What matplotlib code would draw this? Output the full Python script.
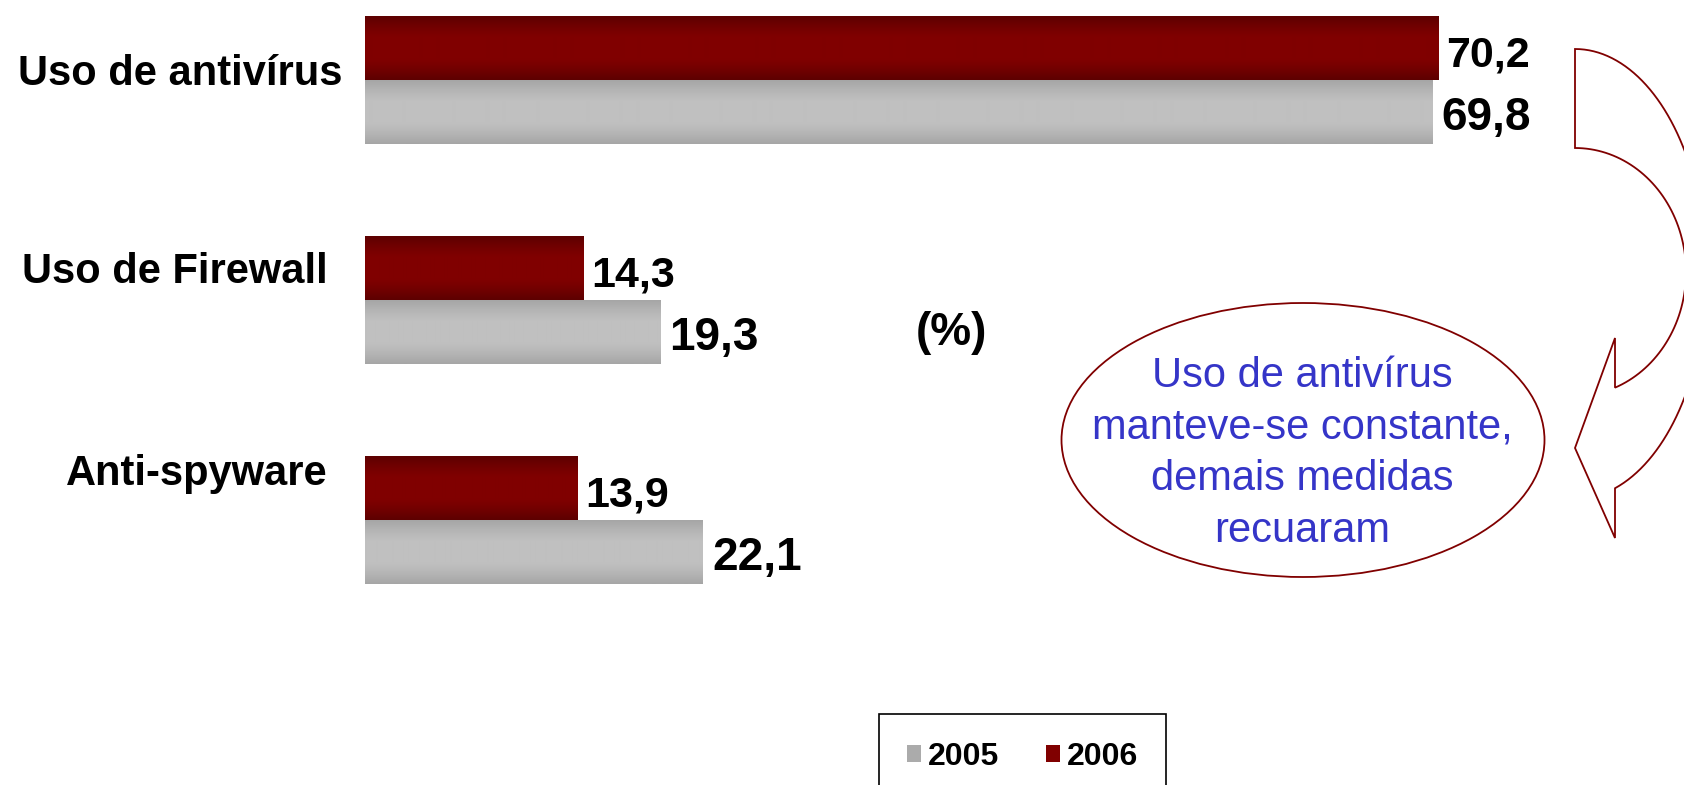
import numpy as np
import matplotlib
matplotlib.use('Agg')
import matplotlib.pyplot as plt
from matplotlib import font_manager
from matplotlib.colors import to_rgb
from matplotlib.patches import Ellipse, Patch, PathPatch
from matplotlib.path import Path

# ---- data -------------------------------------------------------------------
categories = ['Uso de antivírus', 'Uso de Firewall', 'Anti-spyware']
years = ['2005', '2006']
vals_2005 = [69.8, 19.3, 22.1]
vals_2006 = [70.2, 14.3, 13.9]
unit_label = '(%)'
note_lines = ['Uso de antivírus', 'manteve-se constante,', 'demais medidas', 'recuaram']

# ---- fonts ------------------------------------------------------------------
installed = {f.name for f in font_manager.fontManager.ttflist}
narrow = 'Liberation Sans Narrow' if 'Liberation Sans Narrow' in installed else 'Liberation Sans'
plt.rcParams['font.family'] = ['Liberation Sans', 'DejaVu Sans']
# sizes for the value labels depend on whether the narrow cut exists
size06, size05 = (35, 37) if narrow == 'Liberation Sans Narrow' else (31, 33)

RED = '#800000'
RED_EDGE = '#5e0000'
GRAY = '#c0c0c0'
GRAY_EDGE = '#a6a6a6'
BLUE = '#3535c8'

def fmt(v):
    return f'{v:.1f}'.replace('.', ',')

def shade(bars, mid, edge):
    # vertical gradient: darker at top/bottom edge of each bar
    t = np.linspace(-1, 1, 64)
    m = np.clip((np.abs(t) - 0.35) / 0.65, 0, 1) ** 1.2
    img = np.array(to_rgb(mid))[None, :] * (1 - m)[:, None] + np.array(to_rgb(edge))[None, :] * m[:, None]
    img = img[:, None, :]
    for b in bars:
        x, yb, w, hh = b.get_x(), b.get_y(), b.get_width(), b.get_height()
        ax.imshow(img, extent=(x, x + w, yb + hh, yb), aspect='auto',
                  interpolation='bilinear', zorder=2)

# ==============================================================================
# Figure
# ==============================================================================
W, H = 1684, 785
fig = plt.figure(figsize=(W / 100, H / 100), dpi=100)
fig.patch.set_facecolor('white')

x0 = 365          # pixel where the bars start
px_per = 15.29    # pixels per percent
grp = 220         # pixels between groups
top0 = 80         # pixel of the first group centre

ax = fig.add_axes([x0 / W, 0, 1 - x0 / W, 1])
y = np.arange(len(categories))
h = 64 / grp

bars06 = ax.barh(y - h / 2, vals_2006, height=h, color=RED, zorder=1)
bars05 = ax.barh(y + h / 2, vals_2005, height=h, color=GRAY, zorder=1)
shade(bars06, RED, RED_EDGE)
shade(bars05, GRAY, GRAY_EDGE)

ax.set_xlim(0, (W - x0) / px_per)
ax.set_ylim((H - top0) / grp, -top0 / grp)
ax.axis('off')

# ---- value labels ------------------------------------------------------------
for b, v in zip(bars06, vals_2006):
    ax.annotate(fmt(v), xy=(v, b.get_y() + b.get_height() / 2), xytext=(5.5, -13),
                textcoords='offset points', ha='left', va='baseline',
                fontsize=size06, fontweight='bold', family=narrow, zorder=5)
for b, v in zip(bars05, vals_2005):
    ax.annotate(fmt(v), xy=(v, b.get_y() + b.get_height() / 2), xytext=(6.5, -13),
                textcoords='offset points', ha='left', va='baseline',
                fontsize=size05, fontweight='bold', family=narrow, zorder=5)

# ---- overlay in pixel coordinates for the decorations --------------------------
ov = fig.add_axes([0, 0, 1, 1], zorder=3)
ov.set_xlim(0, W)
ov.set_ylim(H, 0)
ov.axis('off')
ov.patch.set_alpha(0)

# category names
cat_pos = [(343, 85), (328, 283), (328, 485)]
for (cx, cy), c in zip(cat_pos, categories):
    ov.text(cx, cy, c, ha='right', va='baseline', fontsize=30, fontweight='bold')

ov.text(951, 345, unit_label, ha='center', va='baseline', fontsize=33,
        fontweight='bold', family=narrow)

# ellipse with comment
ov.add_patch(Ellipse((1303, 440), 483, 274, facecolor='white', edgecolor=RED, lw=1.3))
for i, line in enumerate(note_lines):
    ov.text(1302, 387 + 51.5 * i, line, ha='center', va='baseline', fontsize=30, color=BLUE)

# curved block arrow (partly cut by the right border)
def arc(cx, cy, rx, ry, t0, t1, n=80):
    t = np.linspace(t0, t1, n)
    return np.column_stack([cx + rx * np.sin(t), cy - ry * np.cos(t)])

ax_x = 1575
outer = arc(ax_x, 274, 131, 225, 0, np.pi - np.arcsin(40 / 131))
inner = arc(ax_x, 272, 111, 124, np.pi - np.arcsin(40 / 111), 0)
head = np.array([[1615, 538], [1575, 448], [1615, 338]])
pts = np.vstack([outer, head, inner, outer[:1]])
codes = [Path.MOVETO] + [Path.LINETO] * (len(pts) - 2) + [Path.CLOSEPOLY]
ov.add_patch(PathPatch(Path(pts, codes), facecolor='white', edgecolor=RED, lw=1.3))

# ---- legend -------------------------------------------------------------------
handles = [Patch(facecolor='#ababab', edgecolor='none'), Patch(facecolor=RED, edgecolor='none')]
leg = fig.legend(handles, years, loc='upper left', bbox_to_anchor=(879 / W, 1 - 714 / H),
                 ncol=2, frameon=True, fancybox=False, edgecolor='black', framealpha=1,
                 borderpad=0.88, handlelength=0.44, handleheight=0.44, handletextpad=0.22,
                 columnspacing=1.45, borderaxespad=0, prop={'weight': 'bold', 'size': 23})
leg.get_frame().set_linewidth(1.2)

plt.savefig('out.png', dpi=100)
